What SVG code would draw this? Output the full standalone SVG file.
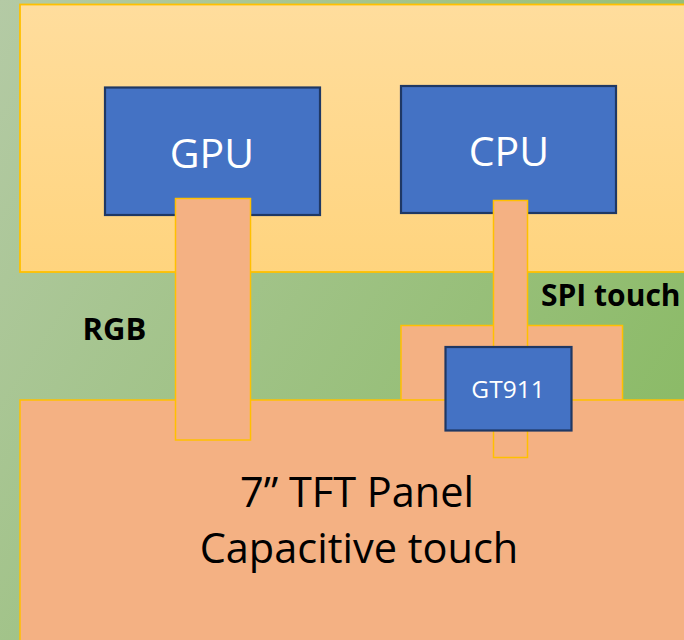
<svg xmlns="http://www.w3.org/2000/svg" width="684" height="640" viewBox="0 0 684 640">
  <defs>
    <linearGradient id="bgGrad" x1="0" y1="0" x2="1" y2="0.6">
      <stop offset="0" stop-color="#b4caa5"/>
      <stop offset="1" stop-color="#8cbb68"/>
    </linearGradient>
    <linearGradient id="boardGrad" x1="0" y1="0" x2="0" y2="1">
      <stop offset="0" stop-color="#ffdd9d"/>
      <stop offset="1" stop-color="#ffd47e"/>
    </linearGradient>
    <style>
      .orange { fill: #f4b183; stroke: #ffc000; stroke-width: 1.5; }
      .chip { fill: #4472c4; stroke: #1f3864; stroke-width: 2.2; }
      .chipText { font-family: "Open Sans", "DejaVu Sans", sans-serif; fill: #ffffff; text-anchor: middle; }
      .label { font-family: "Open Sans", "DejaVu Sans", sans-serif; font-weight: bold; fill: #000000; }
      .panelText { font-family: "Open Sans", "DejaVu Sans", sans-serif; fill: #000000; text-anchor: middle; font-size: 41.5px; }
    </style>
  </defs>
  <rect x="0" y="0" width="684" height="640" fill="url(#bgGrad)"/>

  <g id="board">
    <rect x="20" y="4.5" width="680" height="267.5" fill="url(#boardGrad)" stroke="#ffc000" stroke-width="1.8"/>
  </g>

  <g id="gpu">
    <rect class="chip" x="105" y="87.5" width="215" height="127.5"/>
    <text class="chipText" x="212" y="168" font-size="41">GPU</text>
  </g>

  <g id="cpu">
    <rect class="chip" x="401" y="86" width="215" height="127"/>
    <text class="chipText" x="509" y="166" font-size="41">CPU</text>
  </g>

  <g id="touch-base">
    <rect class="orange" x="401" y="325.5" width="221.5" height="75"/>
  </g>

  <g id="panel">
    <rect class="orange" x="20" y="400" width="680" height="260"/>
    <text class="panelText" x="357" y="507">7” TFT Panel</text>
    <text class="panelText" x="359" y="563">Capacitive touch</text>
  </g>

  <g id="connectors">
    <rect class="orange" x="175.5" y="198.5" width="75" height="241.5"/>
    <rect class="orange" x="493.5" y="200.5" width="34" height="257"/>
  </g>

  <g id="gt911">
    <rect class="chip" x="445.5" y="347" width="126" height="83.5"/>
    <text class="chipText" x="508" y="398" font-size="24.5">GT911</text>
  </g>

  <g id="labels">
    <text class="label" x="82.5" y="339.5" font-size="31">RGB</text>
    <text class="label" x="541" y="306" font-size="30">SPI touch</text>
  </g>
</svg>
